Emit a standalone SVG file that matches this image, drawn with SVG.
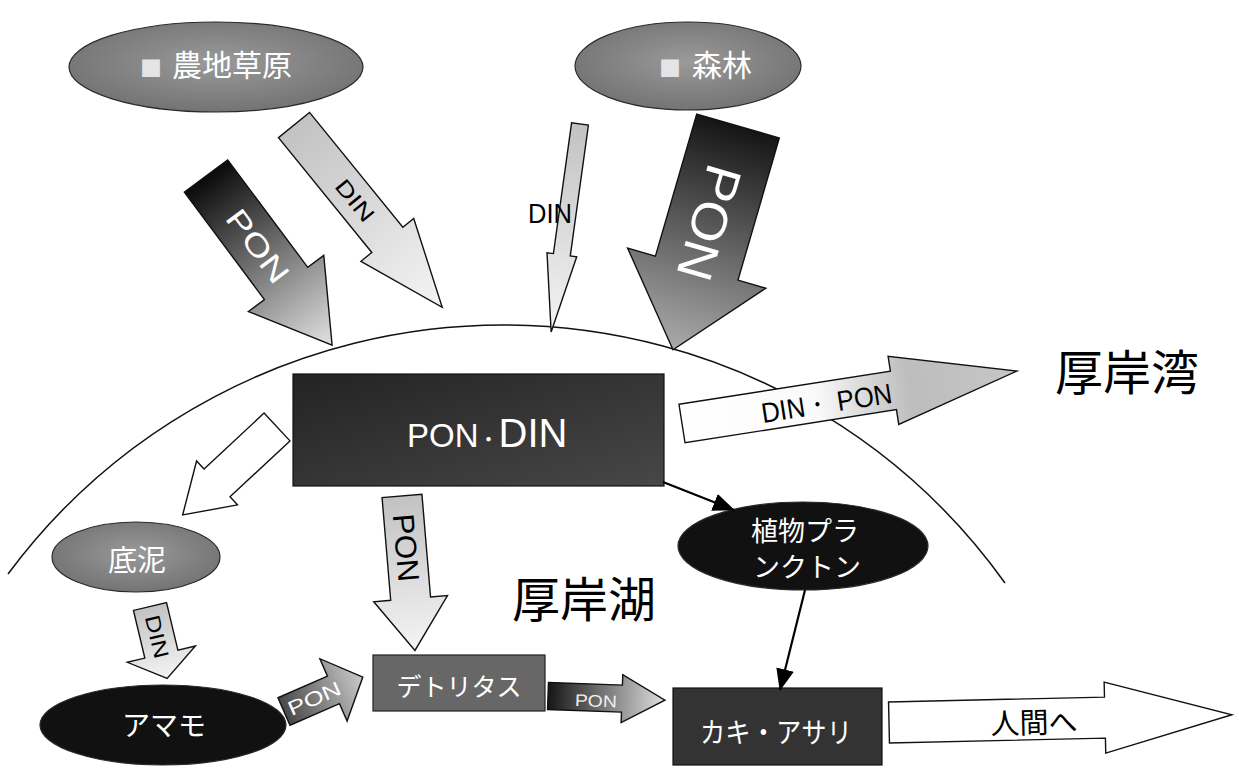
<svg xmlns="http://www.w3.org/2000/svg" width="1239" height="776" viewBox="0 0 1239 776">
<defs>
<linearGradient id="gDark" x1="0" y1="0" x2="1" y2="0"><stop offset="0" stop-color="#0a0a0a"/><stop offset="1" stop-color="#e2e2e2"/></linearGradient>
<linearGradient id="gBig" x1="0" y1="0" x2="1" y2="0"><stop offset="0" stop-color="#151515"/><stop offset="1" stop-color="#ababab"/></linearGradient>
<linearGradient id="gLight" x1="0" y1="0" x2="1" y2="0"><stop offset="0" stop-color="#c2c2c2"/><stop offset="1" stop-color="#f4f4f4"/></linearGradient>
<linearGradient id="gDinPon" x1="0" y1="0" x2="1" y2="0"><stop offset="0" stop-color="#ffffff"/><stop offset="0.4" stop-color="#fafafa"/><stop offset="0.68" stop-color="#bdbdbd"/><stop offset="1" stop-color="#c6c6c6"/></linearGradient>
<linearGradient id="gPonA" x1="0" y1="0" x2="1" y2="0"><stop offset="0" stop-color="#484848"/><stop offset="1" stop-color="#cacaca"/></linearGradient>
<linearGradient id="gPonS" x1="0" y1="0" x2="1" y2="0"><stop offset="0" stop-color="#161616"/><stop offset="1" stop-color="#e0e0e0"/></linearGradient>
<radialGradient id="gEll" cx="0.5" cy="0.45" r="0.6"><stop offset="0" stop-color="#9a9a9a"/><stop offset="1" stop-color="#707070"/></radialGradient>
<linearGradient id="gBox" x1="0" y1="0" x2="1" y2="1"><stop offset="0" stop-color="#232323"/><stop offset="1" stop-color="#474747"/></linearGradient>
<marker id="ah" viewBox="0 0 22 18" refX="21" refY="9" markerWidth="22" markerHeight="18" markerUnits="userSpaceOnUse" orient="auto"><path d="M0,0 L22,9 L0,18 Z" fill="#000"/></marker>
<style>
.jp{font-family:"Noto Sans CJK JP","Noto Sans",sans-serif}
.lat{font-family:"Liberation Sans",Arial,sans-serif}
.wt{fill:#ffffff}
.bk{fill:#000000}
.ar{stroke:#111;stroke-width:1.4;stroke-linejoin:miter}
.hollow{fill:#ffffff;stroke:#111;stroke-width:1.4}
.ell{stroke:#2a2a2a;stroke-width:1.2}
.con{stroke:#000;stroke-width:2.2;fill:none}
</style>
</defs>
<rect width="1239" height="776" fill="#ffffff"/>

<path id="boundary" d="M8,574 A617,617 0 0 1 1005,583" fill="none" stroke="#111" stroke-width="1.5"/>

<g id="node-noudi">
<ellipse cx="216" cy="67" rx="147" ry="45" fill="url(#gEll)" class="ell"/>
<text class="jp" y="76" font-size="30"><tspan x="151" text-anchor="middle" font-size="22" fill="#e4e4e4">■</tspan><tspan x="172" text-anchor="start" fill="#fff">農地草原</tspan></text>
</g>

<g id="node-shinrin">
<ellipse cx="688" cy="66" rx="113" ry="44" fill="url(#gEll)" class="ell"/>
<text class="jp" y="76" font-size="30"><tspan x="670" text-anchor="middle" font-size="22" fill="#e4e4e4">■</tspan><tspan x="692" text-anchor="start" fill="#fff">森林</tspan></text>
</g>

<g id="node-pondin">
<rect x="293" y="374" width="371" height="112" fill="url(#gBox)" stroke="#111" stroke-width="1.2"/>
<text class="lat wt" x="407" y="447" font-size="33">PON<tspan class="jp" font-size="20">・</tspan><tspan font-size="40">DIN</tspan></text>
</g>

<g id="node-teidei">
<ellipse cx="136" cy="557" rx="84" ry="35" fill="url(#gEll)" class="ell"/>
<text class="jp wt" x="137" y="571" font-size="29" text-anchor="middle">底泥</text>
</g>

<g id="node-amamo">
<ellipse cx="163" cy="725" rx="123" ry="40" fill="#111" class="ell"/>
<text class="jp wt" x="164" y="736" font-size="28" text-anchor="middle">アマモ</text>
</g>

<g id="node-detritus">
<rect x="373" y="655" width="172" height="56" fill="#676767" stroke="#222" stroke-width="1.2"/>
<text class="jp wt" x="459" y="696" font-size="25" text-anchor="middle">デトリタス</text>
</g>

<g id="node-plankton">
<ellipse cx="803" cy="546" rx="125" ry="44" fill="#111" class="ell"/>
<text class="jp wt" x="805" y="541" font-size="27" text-anchor="middle">植物プラ</text>
<text class="jp wt" x="807" y="577" font-size="27" text-anchor="middle">ンクトン</text>
</g>

<g id="node-kaki">
<rect x="673" y="688" width="209" height="77" fill="#333333" stroke="#111" stroke-width="1.2"/>
<text class="jp wt" x="776" y="743" font-size="28" text-anchor="middle" textLength="152" lengthAdjust="spacingAndGlyphs">カキ・アサリ</text>
</g>

<g id="label-akkeshi-bay">
<text class="jp bk" x="1055" y="390" font-size="48">厚岸湾</text>
</g>
<g id="label-akkeshi-lake">
<text class="jp bk" x="512" y="617" font-size="48">厚岸湖</text>
</g>

<g id="connectors">
<g transform="translate(206,176) rotate(53.3)">
<path d="M0,-27 L134,-27 L134,-47 L211,0 L134,47 L134,27 L0,27 Z" fill="url(#gDark)" class="ar"/>
<text class="lat wt" x="87" y="10.7" font-size="30" text-anchor="middle" textLength="84" lengthAdjust="spacingAndGlyphs">PON</text>
</g>
<g transform="translate(294,125) rotate(50.9)">
<path d="M0,-20 L148,-20 L148,-34 L235,0 L148,34 L148,20 L0,20 Z" fill="url(#gLight)" class="ar"/>
<text class="lat bk" x="97" y="8" font-size="22" text-anchor="middle" textLength="48" lengthAdjust="spacingAndGlyphs">DIN</text>
</g>
<g transform="translate(580,124) rotate(97.9)">
<path d="M0,-8.5 L132,-8.5 L132,-15 L210,0 L132,15 L132,8.5 L0,8.5 Z" fill="url(#gLight)" class="ar"/>
</g>
<text class="lat bk" x="528" y="223" font-size="28" textLength="44" lengthAdjust="spacingAndGlyphs">DIN</text>
<g transform="translate(738,126) rotate(106.2)">
<path d="M0,-43 L148,-43 L148,-72 L233,0 L148,72 L148,43 L0,43 Z" fill="url(#gBig)" class="ar"/>
<text class="lat wt" x="101" y="18" font-size="50" text-anchor="middle" textLength="118" lengthAdjust="spacingAndGlyphs">PON</text>
</g>
<g transform="translate(682,423.5) rotate(-8.9)">
<path d="M0,-19.5 L214,-19.5 L214,-34.5 L339,0 L214,34.5 L214,19.5 L0,19.5 Z" fill="url(#gDinPon)" class="ar"/>
<text class="lat bk" x="146" y="12" font-size="28" text-anchor="middle" textLength="132" lengthAdjust="spacingAndGlyphs">DIN・ PON</text>
</g>
<g transform="translate(277,427) rotate(137)">
<path d="M0,-19 L82,-19 L82,-30 L129,0 L82,30 L82,19 L0,19 Z" class="hollow"/>
</g>
<g transform="translate(402,496) rotate(85.2)">
<path d="M0,-20 L103,-20 L103,-37 L155,0 L103,37 L103,20 L0,20 Z" fill="url(#gLight)" class="ar"/>
<text class="lat bk" x="52" y="10.7" font-size="30" text-anchor="middle" textLength="68" lengthAdjust="spacingAndGlyphs">PON</text>
</g>
<g transform="translate(150,606.5) rotate(76.6)">
<path d="M0,-17 L49,-17 L49,-35 L74,0 L49,35 L49,17 L0,17 Z" fill="url(#gLight)" class="ar"/>
<text class="lat bk" x="31" y="7.5" font-size="21" text-anchor="middle" textLength="44" lengthAdjust="spacingAndGlyphs">DIN</text>
</g>
<g transform="translate(284,711.5) rotate(-23.6)">
<path d="M0,-15 L54,-15 L54,-34 L86,0 L54,34 L54,15 L0,15 Z" fill="url(#gPonA)" class="ar"/>
<text class="lat wt" x="33" y="7" font-size="20" text-anchor="middle" textLength="56" lengthAdjust="spacingAndGlyphs">PON</text>
</g>
<g transform="translate(548,696) rotate(2)">
<path d="M0,-13.5 L74,-13.5 L74,-24 L117,0 L74,24 L74,13.5 L0,13.5 Z" fill="url(#gPonS)" class="ar"/>
<text class="lat" fill="#eeeeee" x="48" y="9" font-size="17" text-anchor="middle" textLength="42" lengthAdjust="spacingAndGlyphs">PON</text>
</g>
<g transform="translate(889,722.5) rotate(-1.3)">
<path d="M0,-20.5 L216,-20.5 L216,-35.5 L343,0 L216,35.5 L216,20.5 L0,20.5 Z" class="hollow"/>
<text class="jp bk" x="145" y="14" font-size="29" text-anchor="middle">人間へ</text>
</g>
<line class="con" x1="663" y1="482" x2="734" y2="510" marker-end="url(#ah)"/>
<line class="con" x1="805" y1="590" x2="780" y2="690" marker-end="url(#ah)"/>
</g>
</svg>
